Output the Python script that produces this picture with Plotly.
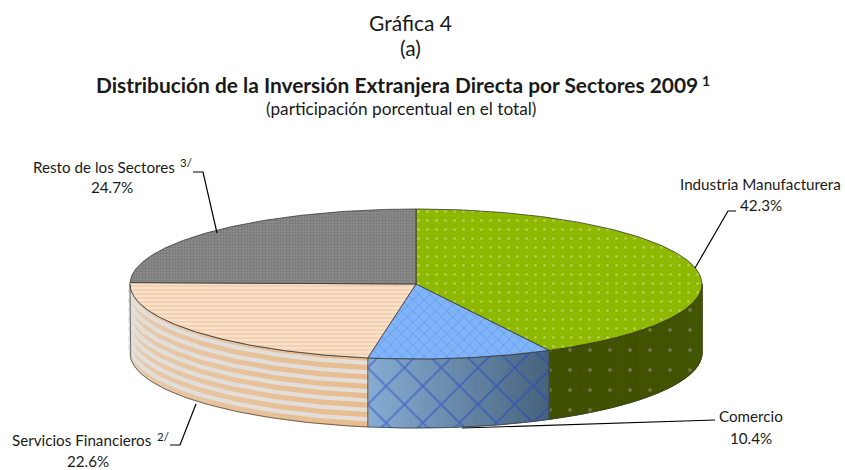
import numpy as np
import plotly.graph_objects as go

# ---- data ----
sectors = ["Industria Manufacturera", "Comercio", "Servicios Financieros", "Resto de los Sectores"]
shares = [42.3, 10.4, 22.6, 24.7]
share_labels = ["42.3%", "10.4%", "22.6%", "24.7%"]
footnotes = ["", "", "2/", "3/"]

# ---- geometry and style ----
CX, CY, RX, RY, DEPTH = 416, 284, 286, 75, 69
FONT = "Lato"
FG = "#1a1a1a"

top_patterns = [
    dict(shape=".", bgcolor="#8FB800", fgcolor="#DCEAB0", size=9, solidity=0.07),
    dict(shape="x", bgcolor="#80B4F8", fgcolor="#4C80E6", size=8, solidity=0.2),
    dict(shape="-", bgcolor="#F8E0CA", fgcolor="#EDC39A", size=4, solidity=0.5),
    dict(shape=".", bgcolor="#8A8A8A", fgcolor="#5E5E5E", size=3, solidity=0.4),
]
side_left = ["#3F5000", "#86ACD2", "#E6CDB2", None]
side_right = ["#435600", "#46627C", "#E8BC8E", None]
side_patterns = [
    dict(shape=".", bgcolor="rgba(0,0,0,0)", fgcolor="#9A9A90", size=20, solidity=0.03),
    dict(shape="x", bgcolor="rgba(0,0,0,0)", fgcolor="#1F3FCC", size=26, solidity=0.13),
]
STRIPE = "#E2DFDA"

fracs = np.array(shares) / sum(shares)
edges = np.concatenate([[0], np.cumsum(fracs)]) * 2 * np.pi


def rim(t, drop=0.0):
    return CX + RX * np.sin(t), CY - RY * np.cos(t) + drop


def mix(a, b, u):
    ca = [int(a[i:i + 2], 16) for i in (1, 3, 5)]
    cb = [int(b[i:i + 2], 16) for i in (1, 3, 5)]
    return "rgb(%d,%d,%d)" % tuple(round(p + (q - p) * u) for p, q in zip(ca, cb))


def band(t0, t1):
    t = np.linspace(t0, t1, 80)
    x, y = rim(t)
    xb, yb = rim(t[::-1], DEPTH)
    return np.r_[x, xb, x[0]], np.r_[y, yb, y[0]]


fig = go.Figure()


def poly(x, y, **kw):
    fig.add_trace(go.Scatter(x=x, y=y, mode="lines", fill="toself",
                             hoverinfo="skip", showlegend=False, **kw))


# side walls: only the front half of the rim can be seen
for i in range(3):
    t0 = max(edges[i], np.pi / 2)
    t1 = min(edges[i + 1], 3 * np.pi / 2)
    cuts = np.linspace(t0, t1, 41)
    for k in range(40):
        c = mix(side_left[i], side_right[i], 1 - k / 39)
        x, y = band(cuts[k], cuts[k + 1])
        poly(x, y, fillcolor=c, line=dict(color=c, width=1))
    x, y = band(t0, t1)
    if i < 2:
        poly(x, y, fillcolor="rgba(0,0,0,0)", fillpattern=side_patterns[i],
             line=dict(color="rgba(60,60,60,0.7)", width=1))
    else:
        t = np.linspace(t0, t1, 120)
        for d in np.arange(5, DEPTH, 9.4):
            sx, sy = rim(t, d)
            fig.add_trace(go.Scatter(x=sx, y=sy, mode="lines",
                                     line=dict(color=STRIPE, width=4.2),
                                     hoverinfo="skip", showlegend=False))
        poly(x, y, fillcolor="rgba(0,0,0,0)", line=dict(color="rgba(60,60,60,0.7)", width=1))

# top face
for i in range(4):
    t = np.linspace(edges[i], edges[i + 1], 160)
    x, y = rim(t)
    poly(np.r_[CX, x, CX], np.r_[CY, y, CY], fillcolor=top_patterns[i]["bgcolor"],
         fillpattern=top_patterns[i], line=dict(color="rgba(50,50,50,0.75)", width=1))

# leader lines
leaders = [
    [(736, 211), (728, 211), (695, 268)],
    [(715, 420), (462, 428)],
    [(170, 445), (180, 445), (196, 404)],
    [(193, 172), (203, 172), (217, 233)],
]
for pts in leaders:
    fig.add_trace(go.Scatter(x=[p[0] for p in pts], y=[p[1] for p in pts], mode="lines",
                             line=dict(color="#000000", width=1.2),
                             hoverinfo="skip", showlegend=False))


def text(x, y, s, size=15.2, anchor="center", bold=False):
    fig.add_annotation(x=x, y=y, text=f"<b>{s}</b>" if bold else s, showarrow=False,
                       xanchor=anchor, yanchor="middle",
                       font=dict(family=FONT, size=size, color=FG))


text(410, 22, "Gráfica 4", 21)
text(410, 47, "(a)", 21)
text(94, 84, "Distribución de la Inversión Extranjera Directa por Sectores 2009", 20.9, "left", True)
text(700, 80, "1", 14, "left", True)
text(401, 108, "(participación porcentual en el total)", 17.2)

label_pos = [(760, 184, 761, 205), (751, 416, 751, 438), (81, 440, 88, 461), (104, 167, 112, 187)]
sup_pos = [None, None, (155, 436), (178, 162)]
for (lx, ly, vx, vy), name, val, note, sp in zip(label_pos, sectors, share_labels, footnotes, sup_pos):
    text(lx, ly, name)
    text(vx, vy, val)
    if note:
        text(sp[0], sp[1], note, 11.5, "left")

fig.update_layout(
    width=845, height=470, margin=dict(l=0, r=0, t=0, b=0),
    paper_bgcolor="white", plot_bgcolor="white", showlegend=False,
    xaxis=dict(range=[0, 845], visible=False, fixedrange=True),
    yaxis=dict(range=[470, 0], visible=False, fixedrange=True),
)
fig.write_html("out.html", config=dict(displayModeBar=False),
               post_script="document.body.style.margin='0';")
